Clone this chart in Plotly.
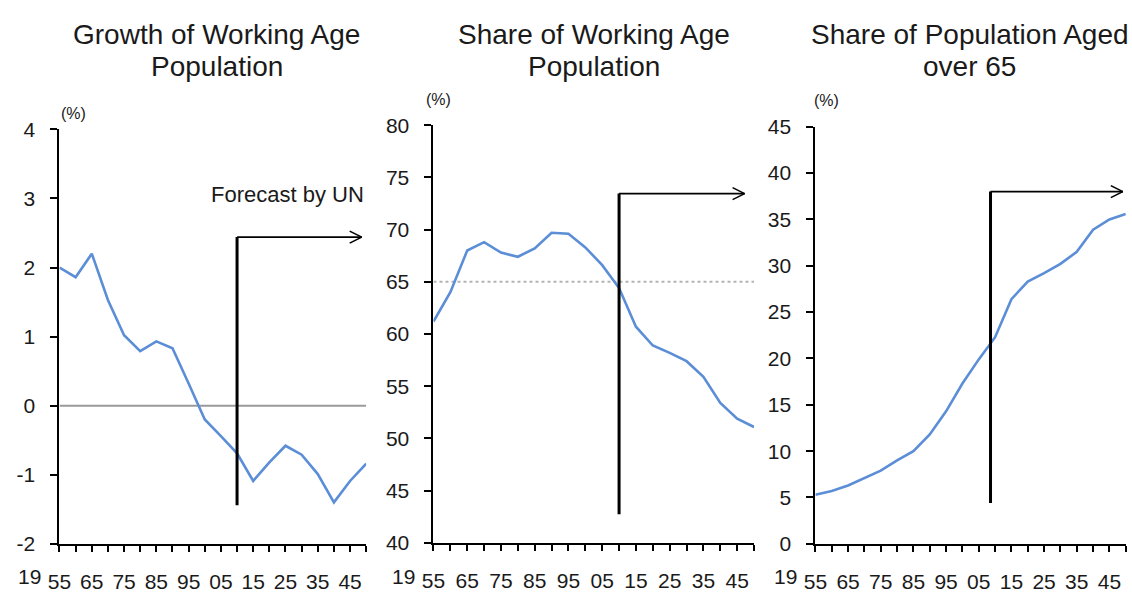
import plotly.graph_objects as go

W, H = 1132, 601

# ---------------- data ----------------
years = [1955, 1960, 1965, 1970, 1975, 1980, 1985, 1990, 1995, 2000,
         2005, 2010, 2015, 2020, 2025, 2030, 2035, 2040, 2045, 2050]
x_tick_labels = ['55', '', '65', '', '75', '', '85', '', '95', '',
                 '05', '', '15', '', '25', '', '35', '', '45', '']
century_label = '19'

growth_working_age = [2.0, 1.86, 2.2, 1.53, 1.02, 0.79, 0.93, 0.83, 0.32, -0.2,
                      -0.44, -0.69, -1.09, -0.82, -0.58, -0.71, -0.99, -1.4, -1.09, -0.84]
share_working_age = [61.2, 64.0, 68.0, 68.8, 67.8, 67.4, 68.2, 69.7, 69.6, 68.3,
                     66.6, 64.4, 60.7, 58.9, 58.2, 57.4, 55.9, 53.4, 51.9, 51.1]
share_over_65 = [5.3, 5.7, 6.3, 7.1, 7.9, 9.0, 10.0, 11.8, 14.3, 17.3,
                 19.9, 22.3, 26.4, 28.3, 29.2, 30.2, 31.5, 33.9, 35.0, 35.6]

y_tick_values = [
    [-2, -1, 0, 1, 2, 3, 4],
    [40, 45, 50, 55, 60, 65, 70, 75, 80],
    [0, 5, 10, 15, 20, 25, 30, 35, 40, 45],
]
y_tick_labels = [
    ['-2', '-1', '0', '1', '2', '3', '4'],
    ['40', '45', '50', '55', '60', '65', '70', '75', '80'],
    ['0', '5', '10', '15', '20', '25', '30', '35', '40', '45'],
]

titles = [["Growth of Working Age", "Population"],
          ["Share of Working Age", "Population"],
          ["Share of Population Aged", "over 65"]]
unit_label = "(%)"
forecast_label = "Forecast by UN"

reference_lines = [0, 65, None]
# forecast marker: x of vertical line, bottom, top/arrow level, arrow tip
forecast_x = [2010, 2010, 2008.6]
forecast_bottom = [-1.44, 42.75, 4.4]
forecast_top = [2.44, 73.45, 38.0]
forecast_tip = [2048.6, 2047.2, 2049.1]

series = [growth_working_age, share_working_age, share_over_65]

# ---------------- layout geometry (pixels) ----------------
panels_px = [  # left, right, top, bottom
    (48, 358, 122, 553),
    (426, 750, 117.7, 552),
    (812, 1125.7, 119.3, 553),
]
title_cx = [207, 588, 968]
title_cy = [23, 57]
unit_pos = [(62, 106), (431, 91), (823, 92)]

FONT = "Liberation Sans, Arial, sans-serif"
TXT = "#1a1a1a"
BLUE = "#5B8ED6"

fig = go.Figure()
layout_axes = {}
shapes = []
annotations = []

for i in range(3):
    l, r, t, b = panels_px[i]
    xa = "xaxis" if i == 0 else f"xaxis{i+1}"
    ya = "yaxis" if i == 0 else f"yaxis{i+1}"
    xr = "x" if i == 0 else f"x{i+1}"
    yr = "y" if i == 0 else f"y{i+1}"
    tv = y_tick_values[i]

    fig.add_trace(go.Scatter(x=years, y=series[i], mode="lines",
                             line=dict(color=BLUE, width=2.6),
                             xaxis=xr, yaxis=yr, showlegend=False,
                             hoverinfo="x+y"))

    layout_axes[xa] = dict(
        domain=[l / W, r / W], anchor=yr, range=[years[0], years[-1]],
        tickmode="array", tickvals=years, ticktext=x_tick_labels,
        showline=True, linecolor="#000", linewidth=2,
        ticks="outside", ticklen=6, tickwidth=1.5, tickcolor="#000",
        showgrid=False, zeroline=False, ticklabelstandoff=12,
        tickfont=dict(family=FONT, size=21, color=TXT),
    )
    layout_axes[ya] = dict(
        domain=[1 - b / H, 1 - t / H], anchor=xr, range=[tv[0], tv[-1]],
        tickmode="array", tickvals=tv, ticktext=y_tick_labels[i],
        showline=True, linecolor="#000", linewidth=2,
        ticks="outside", ticklen=7, tickwidth=1.5, tickcolor="#000",
        showgrid=False, zeroline=False, ticklabelstandoff=11,
        tickfont=dict(family=FONT, size=21, color=TXT),
    )

    # reference line
    if reference_lines[i] is not None:
        dash = "solid" if i == 0 else "dot"
        color = "#9a9a9a" if i == 0 else "#b4b4b4"
        shapes.append(dict(type="line", xref=xr, yref=yr,
                           x0=years[0], x1=years[-1],
                           y0=reference_lines[i], y1=reference_lines[i],
                           line=dict(color=color, width=2, dash=dash), layer="below"))

    # forecast vertical line + arrow
    fx, fb, ft, tip = forecast_x[i], forecast_bottom[i], forecast_top[i], forecast_tip[i]
    shapes.append(dict(type="line", xref=xr, yref=yr, x0=fx, x1=fx, y0=fb, y1=ft,
                       line=dict(color="#000", width=3)))
    shapes.append(dict(type="line", xref=xr, yref=yr, x0=fx, x1=tip, y0=ft, y1=ft,
                       line=dict(color="#000", width=1.6)))
    for s in (1, -1):
        shapes.append(dict(type="line", xref=xr, yref=yr,
                           xsizemode="pixel", xanchor=tip, x0=-12, x1=0,
                           ysizemode="pixel", yanchor=ft, y0=6 * s, y1=0,
                           line=dict(color="#000", width=1.6)))

    # titles
    for line_txt, ypx in zip(titles[i], title_cy):
        annotations.append(dict(text=line_txt, xref="paper", yref="paper",
                                x=title_cx[i] / W, y=1 - ypx / H,
                                xanchor="center", yanchor="middle",
                                showarrow=False,
                                font=dict(family=FONT, size=28, color=TXT)))
    # unit label
    ux, uy = unit_pos[i]
    annotations.append(dict(text=unit_label, xref="paper", yref="paper",
                            x=ux / W, y=1 - uy / H, xanchor="center", yanchor="middle",
                            showarrow=False, font=dict(family=FONT, size=16, color=TXT)))
    # century prefix of first x label
    annotations.append(dict(text=century_label, xref=xr, yref="paper",
                            x=years[0], xshift=-16, y=1 - 587 / H,
                            xanchor="right", yanchor="middle", showarrow=False,
                            font=dict(family=FONT, size=21, color=TXT)))

# "Forecast by UN"
annotations.append(dict(text=forecast_label, xref="x", yref="y",
                        x=years[-1], y=3.05, xanchor="right", yanchor="middle",
                        showarrow=False, font=dict(family=FONT, size=22, color=TXT)))

fig.update_layout(
    width=W, height=H, margin=dict(l=0, r=0, t=0, b=0),
    paper_bgcolor="white", plot_bgcolor="white",
    shapes=shapes, annotations=annotations, showlegend=False,
    **layout_axes,
)

fig.write_html("out.html", config={"displayModeBar": False},
               post_script="document.body.style.margin='0';")
